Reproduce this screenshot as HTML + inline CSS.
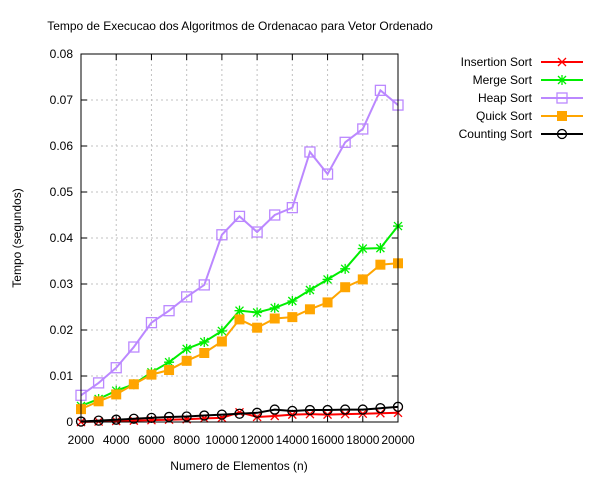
<!DOCTYPE html>
<html><head><meta charset="utf-8"><style>
body{margin:0;background:#fff}
svg{font-family:"Liberation Sans",sans-serif;font-size:12px}
</style></head><body>
<svg id="c" width="600" height="480">
<text x="240" y="30" text-anchor="middle">Tempo de Execucao dos Algoritmos de Ordenacao para Vetor Ordenado</text>
<text x="239" y="470" text-anchor="middle">Numero de Elementos (n)</text>
<text transform="translate(21,238) rotate(-90)" text-anchor="middle">Tempo (segundos)</text>
<g id="grid"></g><g id="series"></g><g id="legend"></g>
<rect x="81" y="54" width="317" height="368" fill="none" stroke="#000" stroke-width="1"/>
</svg>
<script>
const xs=[2000,3000,4000,5000,6000,7000,8000,9000,10000,11000,12000,13000,14000,15000,16000,17000,18000,19000,20000];
const insertion=[0,0.0001,0.0002,0.0003,0.0004,0.0005,0.0006,0.0008,0.0009,0.0021,0.0011,0.0013,0.0016,0.0017,0.0016,0.0017,0.0018,0.0019,0.002];
const merge=[0.0035,0.005,0.0068,0.0082,0.0108,0.013,0.0159,0.0174,0.0198,0.0242,0.0238,0.0248,0.0263,0.0287,0.031,0.0333,0.0377,0.0378,0.0426];
const heap=[0.0058,0.0085,0.0118,0.0163,0.0216,0.0242,0.0272,0.0298,0.0407,0.0447,0.0413,0.045,0.0466,0.0587,0.0539,0.0608,0.0637,0.0721,0.0689];
const quick=[0.0028,0.0045,0.006,0.0082,0.0103,0.0113,0.0133,0.015,0.0175,0.0223,0.0205,0.0225,0.0228,0.0245,0.026,0.0293,0.031,0.0342,0.0345];
const counting=[0.0001,0.0003,0.0005,0.0007,0.0009,0.0011,0.0012,0.0014,0.0016,0.0018,0.002,0.0027,0.0024,0.0026,0.0026,0.0027,0.0027,0.003,0.0033];
const xTicks=[2000,4000,6000,8000,10000,12000,14000,16000,18000,20000];
const yTicks=[0,0.01,0.02,0.03,0.04,0.05,0.06,0.07,0.08];
const yTickLabels=["0","0.01","0.02","0.03","0.04","0.05","0.06","0.07","0.08"];
const names=["Insertion Sort","Merge Sort","Heap Sort","Quick Sort","Counting Sort"];
const NS="http://www.w3.org/2000/svg";
const X=v=>81+(v-2000)/18000*317, Y=v=>422-v/0.08*368;
function mk(tag,attrs,parent){const e=document.createElementNS(NS,tag);for(const k in attrs)e.setAttribute(k,attrs[k]);parent.appendChild(e);return e;}
const grid=document.getElementById('grid'),ser=document.getElementById('series'),leg=document.getElementById('legend');
xTicks.forEach(t=>{const x=X(t);
 if(t>2000&&t<20000){const l=mk('line',{x1:x,x2:x,y1:54,y2:422,stroke:'#c0c0c0','stroke-dasharray':'2,3'},grid);}
 mk('line',{x1:x,x2:x,y1:422,y2:416,stroke:'#000'},grid);mk('line',{x1:x,x2:x,y1:54,y2:60,stroke:'#000'},grid);
 const tx=mk('text',{x:x,y:444,'text-anchor':'middle'},grid);tx.textContent=t;
 });
yTicks.forEach((t,i)=>{const y=Y(t);
 if(i>0&&i<yTicks.length-1){const l=mk('line',{x1:81,x2:398,y1:y,y2:y,stroke:'#c0c0c0','stroke-dasharray':'2,3'},grid);}
 mk('line',{x1:81,x2:87,y1:y,y2:y,stroke:'#000'},grid);mk('line',{x1:398,x2:392,y1:y,y2:y,stroke:'#000'},grid);
 const tx=mk('text',{x:73,y:y+4,'text-anchor':'end'},grid);tx.textContent=yTickLabels[i];
 });
function marker(type,x,y,col,g){
 if(type==='x'){mk('path',{d:`M${x-4},${y-4}L${x+4},${y+4}M${x-4},${y+4}L${x+4},${y-4}`,stroke:col,'stroke-width':1.3},g);}
 else if(type==='star'){mk('path',{d:`M${x-5},${y}H${x+5}M${x},${y-5}V${y+5}M${x-4},${y-4}L${x+4},${y+4}M${x-4},${y+4}L${x+4},${y-4}`,stroke:col,'stroke-width':1.3},g);}
 else if(type==='sq'){mk('rect',{x:x-5,y:y-5,width:10,height:10,fill:'none',stroke:col,'stroke-width':1.3},g);}
 else if(type==='fsq'){mk('rect',{x:x-5,y:y-5,width:10,height:10,fill:col},g);}
 else {mk('circle',{cx:x,cy:y,r:4.5,fill:'none',stroke:col,'stroke-width':1.3},g);}
}
const defs=[[insertion,'#ff0000','x','series-insertion'],[merge,'#00ee00','star','series-merge'],[heap,'#bb88ff','sq','series-heap'],[quick,'#ffa500','fsq','series-quick'],[counting,'#000000','circ','series-counting']];
const order=[2,1,3,0,4];
order.forEach(i=>{const [d,col,m,n]=defs[i];const g=mk('g',{},ser);
 
 mk('polyline',{points:d.map((v,j)=>X(xs[j])+','+Y(v)).join(' '),fill:'none',stroke:col,'stroke-width':2},g);
 d.forEach((v,j)=>marker(m,X(xs[j]),Y(v),col,g));});
defs.forEach(([d,col,m,n],i)=>{const y=62+i*18;const g=mk('g',{},leg);
 
 const t=mk('text',{x:532,y:y+4,'text-anchor':'end'},g);t.textContent=names[i];
 mk('line',{x1:541,x2:583,y1:y,y2:y,stroke:col,'stroke-width':2},g);marker(m,562,y,col,g);});
</script>
</body></html>
